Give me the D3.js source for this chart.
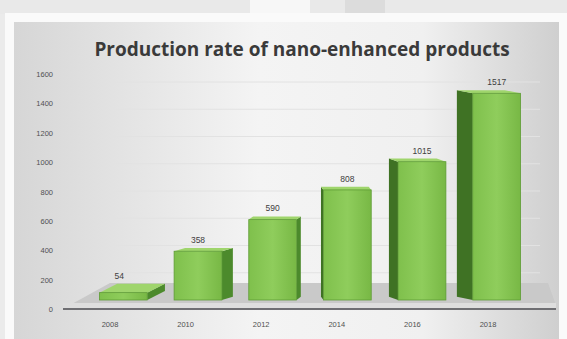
<!DOCTYPE html>
<html><head><meta charset="utf-8">
<script src="https://cdn.jsdelivr.net/npm/d3@7/dist/d3.min.js"></script>
<style>body{margin:0;background:#ebebeb;}svg{display:block;}</style>
</head><body>
<script>
const years = ["2008","2010","2012","2014","2016","2018"];
const values = [54, 358, 590, 808, 1015, 1517];
const yTicks = [0,200,400,600,800,1000,1200,1400,1600];
const title = "Production rate of nano-enhanced products";

const W = 567, H = 339;
const svg = d3.select("body").append("svg").attr("width", W).attr("height", H);
const defs = svg.append("defs");

const bg = defs.append("linearGradient").attr("id","bg").attr("x1","0").attr("x2","1").attr("y1","0").attr("y2","0");
bg.append("stop").attr("offset","0").attr("stop-color","#d6d6d6");
bg.append("stop").attr("offset","0.45").attr("stop-color","#f4f4f4");
bg.append("stop").attr("offset","0.75").attr("stop-color","#f0f0f0");
bg.append("stop").attr("offset","1").attr("stop-color","#cfcfcf");

const front = defs.append("linearGradient").attr("id","front").attr("x1","0").attr("x2","1");
front.append("stop").attr("offset","0").attr("stop-color","#7fc04c");
front.append("stop").attr("offset","0.5").attr("stop-color","#8fcd5c");
front.append("stop").attr("offset","1").attr("stop-color","#78b845");

// top faded strip
svg.append("rect").attr("x",0).attr("y",0).attr("width",W).attr("height",14).attr("fill","#e9e9e9");
svg.append("rect").attr("x",250).attr("y",0).attr("width",60).attr("height",14).attr("fill","#f7f7f7");
svg.append("rect").attr("x",345).attr("y",0).attr("width",40).attr("height",14).attr("fill","#dcdcdc");
// panel
svg.append("rect").attr("x",5).attr("y",13).attr("width",W-5).attr("height",H-13).attr("fill","#fafafa");
svg.append("rect").attr("x",14).attr("y",22).attr("width",W-22).attr("height",H-22).attr("fill","url(#bg)");

// scales
const yAxisScale = d3.scaleLinear().domain([0,1600]).range([309,74]);
const yBar = d3.scaleLinear().domain([0,1600]).range([300,82]);
const xBar = d3.scaleBand().domain(years).range([86,534]).paddingInner(0.36).paddingOuter(0.18);
const xLab = d3.scalePoint().domain(years).range([110,488]);

// faint back-wall gridlines
svg.append("g").selectAll("line").data(yTicks.slice(1)).join("line")
  .attr("x1",110).attr("x2",540)
  .attr("y1",d=>yBar(d)).attr("y2",d=>yBar(d))
  .attr("stroke","#e2e2e2").attr("stroke-width",1);

// floor
svg.append("path").attr("d","M70,305 L110,283 L548,283 L556,305 Z").attr("fill","#c9c9c9");
svg.append("rect").attr("x",63).attr("y",303).attr("width",493).attr("height",5).attr("fill","#dedede");
svg.append("line").attr("x1",63).attr("x2",556).attr("y1",309).attr("y2",309).attr("stroke","#6f6f73").attr("stroke-width",2);

// bars (3D-ish)
const mid = 320;
const depth = 9;
const g = svg.append("g");
years.forEach((yr,i)=>{
  const x0 = xBar(yr), bw = xBar.bandwidth(), x1 = x0+bw;
  const yt = yBar(values[i]), yb = yBar(0);
  const c = x0 + bw/2;
  const shift = (mid - c) * 0.09;
  const dy = i===0 ? -9 : -depth*0.35;
  if (shift > 0) {
    g.append("path").attr("d",`M${x1},${yt} L${x1+shift},${yt+dy} L${x1+shift},${yb+dy} L${x1},${yb} Z`).attr("fill","#4c8a2c");
  } else {
    g.append("path").attr("d",`M${x0},${yt} L${x0+shift},${yt+dy} L${x0+shift},${yb+dy} L${x0},${yb} Z`).attr("fill","#3f7224");
  }
  g.append("path").attr("d",`M${x0},${yt} L${x0+shift},${yt+dy} L${x1+shift},${yt+dy} L${x1},${yt} Z`).attr("fill","#9fd56c");
  g.append("rect").attr("x",x0).attr("y",yt).attr("width",bw).attr("height",yb-yt)
    .attr("fill","url(#front)").attr("stroke","#5e9c35").attr("stroke-width",0.8);
  g.append("text").attr("x",c+ (i===0?-4:0)).attr("y",yt + dy - 5).attr("text-anchor","middle")
    .attr("font-family","Liberation Sans, Arial, sans-serif").attr("font-size",8.5).attr("fill","#404040")
    .text(values[i]);
});

// y-axis labels
svg.append("g").selectAll("text").data(yTicks).join("text")
  .attr("x",53).attr("y",d=>yAxisScale(d)+3).attr("text-anchor","end")
  .attr("font-family","Liberation Sans, Arial, sans-serif").attr("font-size",7.5).attr("fill","#505050")
  .text(d=>d);

// x labels
svg.append("g").selectAll("text").data(years).join("text")
  .attr("x",d=>xLab(d)).attr("y",327).attr("text-anchor","middle")
  .attr("font-family","Liberation Sans, Arial, sans-serif").attr("font-size",7.5).attr("fill","#505050")
  .text(d=>d);

// title
svg.append("text").attr("x",302).attr("y",56).attr("text-anchor","middle")
  .attr("font-family","Open Sans, sans-serif").attr("font-weight","bold").attr("font-size",19).attr("fill","#3a3a3a")
  .text(title);
</script>
</body></html>
